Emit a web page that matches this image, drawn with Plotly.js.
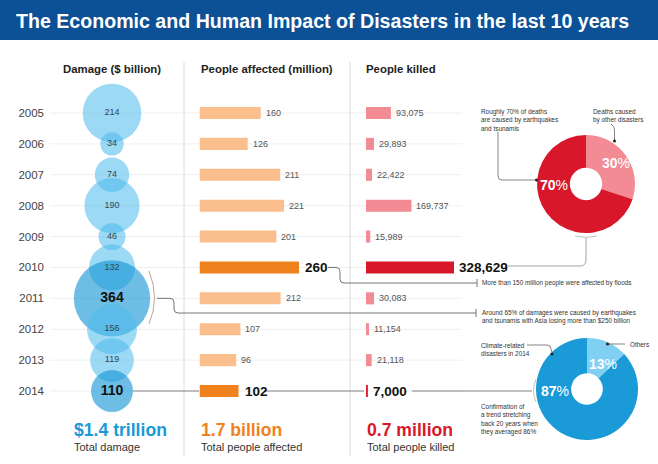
<!DOCTYPE html>
<html><head><meta charset="utf-8">
<script src="https://cdn.plot.ly/plotly-3.0.1.min.js"></script>
<style>html,body{margin:0;padding:0;background:#fff}#c{width:658px;height:464px}</style>
</head><body><div id="c"></div>
<script>
// ---- data ----
const years = [2005,2006,2007,2008,2009,2010,2011,2012,2013,2014];
const damage = [214,34,74,190,46,132,364,156,119,110];          // $ billion
const affected = [160,126,211,221,201,260,212,107,96,102];      // million
const killed = [93075,29893,22422,169737,15989,328629,30083,11154,21118,7000];
const highlightDamage = [2011,2014];
const highlightBars = [2010,2014];
const deathLabels = ['Deaths caused by other disasters','Earthquakes and tsunamis'];
const deathShares = [30,70];
const climateLabels = ['Others','Climate-related disasters'];
const climateShares = [13,87];
const totals = ['$1.4 trillion','1.7 billion','0.7 million'];
const totalLabels = ['Total damage','Total people affected','Total people killed'];
const headers = ['Damage ($ billion)','People affected (million)','People killed'];
const title = 'The Economic and Human Impact of Disasters in the last 10 years';

// ---- layout helpers ----
const W=658,H=464;
const px=x=>x/W, py=y=>1-y/H;
const BOLD="'Liberation Sans',Arial,sans-serif";
const SANS="'Liberation Sans',Arial,sans-serif";
const BLUE='#1a9ad6', ORANGE='#f0821e', RED='#d8182a';
const rowTop=113, rowStep=30.89;
const yr0 = 2005 - rowTop/rowStep, yr1 = 2005 + (H-rowTop)/rowStep;
const rowY = yr => rowTop + (yr-2005)*rowStep;
const P=(x,y)=>`${px(x)},${py(y)}`;

const isHD = years.map(y=>highlightDamage.includes(y));
const isHB = years.map(y=>highlightBars.includes(y));

const traces = [];
// bubbles
traces.push({
  type:'scatter', mode:'markers+text', xaxis:'x', yaxis:'y', cliponaxis:false,
  x: years.map(()=>0), y: years,
  marker:{size:damage, sizemode:'area', sizeref:0.125,
    color:isHD.map(h=>h?'rgba(18,148,212,0.88)':'rgba(78,188,238,0.8)'), line:{width:0}},
  text: damage.map((v,i)=>isHD[i]?`<b>${v}</b>`:String(v)),
  textposition:'middle center',
  textfont:{family:SANS, size:isHD.map(h=>h?14:9), color:isHD.map(h=>h?'#111':'#2f4654')},
  hoverinfo:'skip', showlegend:false
});
// affected bars
traces.push({
  type:'bar', orientation:'h', xaxis:'x2', yaxis:'y', x:affected, y:years, width:0.39,
  marker:{color:isHB.map(h=>h?ORANGE:'#fbbf8d')}, hoverinfo:'skip', showlegend:false
});
// killed bars
traces.push({
  type:'bar', orientation:'h', xaxis:'x3', yaxis:'y', x:killed, y:years, width:0.39,
  marker:{color:isHB.map(h=>h?RED:'#f28b93')}, hoverinfo:'skip', showlegend:false
});
// pies
const pieDom=(cx,cy,r)=>({x:[px(cx-r),px(cx+r)], y:[py(cy+r),py(cy-r)]});
traces.push({type:'pie', labels:deathLabels, values:deathShares, hole:0.33, sort:false,
  direction:'clockwise', rotation:0, textinfo:'none', hoverinfo:'skip',
  marker:{colors:['#f28b93',RED], line:{width:0}}, domain:pieDom(586,184,49), showlegend:false});
traces.push({type:'pie', labels:climateLabels, values:climateShares, hole:0.31, sort:false,
  direction:'clockwise', rotation:0, textinfo:'none', hoverinfo:'skip',
  marker:{colors:['#7fd0f3',BLUE], line:{width:0}}, domain:pieDom(587,389,51), showlegend:false});

const ann=[];
const A=(o)=>ann.push(Object.assign({xref:'paper',yref:'paper',showarrow:false,xanchor:'left',yanchor:'middle'},o));
// title
A({x:px(14),y:py(21),text:`<b>${title}</b>`,font:{family:BOLD,size:19.6,color:'#fff'}});
// headers
[[112,headers[0]],[267,headers[1]],[401,headers[2]]].forEach(([cx,t])=>
  A({x:px(cx),y:py(69),xanchor:'center',text:`<b>${t}</b>`,font:{family:BOLD,size:11.4,color:'#222'}}));
// bar labels
years.forEach((yr,i)=>{
  const hb=isHB[i];
  const f=hb?{family:BOLD,size:13.5,color:'#111'}:{family:SANS,size:9,color:'#555'};
  ann.push({xref:'x2',yref:'y',x:affected[i],y:yr,xshift:hb?4:3,xanchor:'left',yanchor:'middle',showarrow:false,
    text:hb?`<b>${affected[i]}</b>`:String(affected[i]),font:f});
  const ks=killed[i].toLocaleString('en-US');
  ann.push({xref:'x3',yref:'y',x:killed[i],y:yr,xshift:3,xanchor:'left',yanchor:'middle',showarrow:false,
    text:hb?`<b>${ks}</b>`:ks,font:f});
});
// totals
[[73,BLUE],[200,ORANGE],[366,RED]].forEach(([x,c],i)=>{
  A({x:px(x-1),y:py(430),text:`<b>${totals[i]}</b>`,font:{family:BOLD,size:17.6,color:c}});
  A({x:px(x-1),y:py(447),text:totalLabels[i],font:{family:SANS,size:11,color:'#333'}});
});
// pie percentages
const pct=(v)=>`<b>${v}</b><span style="font-weight:normal">%</span>`;
A({x:px(554),y:py(185),xanchor:'center',text:pct(deathShares[1]),font:{family:BOLD,size:14,color:'#fff'}});
A({x:px(616),y:py(163),xanchor:'center',text:pct(deathShares[0]),font:{family:BOLD,size:14,color:'#fff'}});
A({x:px(555),y:py(391),xanchor:'center',text:pct(climateShares[1]),font:{family:BOLD,size:14,color:'#fff'}});
A({x:px(603),y:py(364),xanchor:'center',text:pct(climateShares[0]),font:{family:BOLD,size:14,color:'#fff'}});
// notes
const note={family:SANS,size:6.4,color:'#333'};
A({x:px(479),y:py(106),yanchor:'top',align:'left',text:'Roughly 70% of deaths<br>are caused by earthquakes<br>and tsunamis',font:note});
A({x:px(591),y:py(106),yanchor:'top',align:'left',text:'Deaths caused<br>by other disasters',font:note});
A({x:px(480),y:py(283),text:'More than 150 million people were affected by floods',font:note});
A({x:px(480),y:py(317),align:'left',text:'Around 65% of damages were caused by earthquakes<br>and tsunamis with Asia losing more than $250 billion',font:note});
A({x:px(479),y:py(349),align:'left',text:'Climate-related<br>disasters in 2014',font:note});
A({x:px(628),y:py(344),text:'Others',font:note});
A({x:px(479),y:py(401),yanchor:'top',align:'left',text:'Confirmation of<br>a trend stretching<br>back 20 years when<br>they averaged 86%',font:note});

// shapes
const shapes=[];
shapes.push({type:'rect',xref:'paper',yref:'paper',x0:0,x1:1,y0:py(40),y1:1,fillcolor:'#0c5096',line:{width:0},layer:'below'});
years.forEach(yr=>shapes.push({type:'line',xref:'paper',yref:'y',x0:px(50),x1:px(462),y0:yr,y1:yr,line:{color:'#efefef',width:1},layer:'below'}));
[184,350].forEach(x=>shapes.push({type:'line',xref:'paper',yref:'paper',x0:px(x),x1:px(x),y0:py(62),y1:py(456),line:{color:'#dcdcdc',width:1},layer:'below'}));
const path=(d,c='#666',w=0.9)=>shapes.push({type:'path',xref:'paper',yref:'paper',path:d,line:{color:c,width:w}});
const dot=(x,y)=>shapes.push({type:'circle',xref:'paper',yref:'paper',x0:px(x-1.5),x1:px(x+1.5),y0:py(y+1.5),y1:py(y-1.5),fillcolor:'#222',line:{width:0}});
const y10=rowY(2010), y11=rowY(2011), y14=rowY(2014);
// 2010 affected -> floods note
path(`M${P(328,y10)} L${P(336,y10)} Q${P(340,y10)} ${P(340,y10+4)} L${P(340,283-4)} Q${P(340,283)} ${P(344,283)} L${P(477,283)}`);
path(`M${P(477,279)} L${P(477,287)}`);
// 2011 damage bracket + note
path(`M${P(149,271)} Q${P(160,y11)} ${P(149,324)}`,'#b59a88',0.9);
path(`M${P(157,y11)} L${P(170,y11)} Q${P(174,y11)} ${P(174,y11+4)} L${P(174,309)} Q${P(174,313)} ${P(178,313)} L${P(476,313)}`);
path(`M${P(476,309)} L${P(476,317)}`);
// 2010 killed -> red donut
path(`M${P(508,266)} L${P(580,266)} Q${P(586,266)} ${P(586,260)} L${P(586,237)}`,'#999',0.9);
path(`M${P(575,236)} Q${P(586,239)} ${P(597,236)}`,'#bbb',0.9);
// 70% leader
path(`M${P(498,132)} L${P(498,176)} Q${P(498,180)} ${P(502,180)} L${P(536,180)}`,'#666',0.8);
dot(536.5,180);
// 30% leader
path(`M${P(611,124)} Q${P(614.5,126)} ${P(614.5,130)} L${P(614.5,140)}`,'#666',0.8);
dot(614.5,141);
// 2014 line
path(`M${P(133,y14)} L${P(199,y14)}`,'#777',0.9);
path(`M${P(264,y14)} L${P(364,y14)}`,'#777',0.9);
path(`M${P(412,y14)} L${P(532,y14)}`,'#777',0.9);
path(`M${P(536,379)} Q${P(531,y14)} ${P(536,402)}`,'#bbb',0.9);
// climate leaders
path(`M${P(527,345)} L${P(547,345)} Q${P(551,345)} ${P(551,349)} L${P(552,352)}`,'#666',0.8);
dot(552,354);
path(`M${P(608,344)} L${P(625,344)}`,'#666',0.8);
dot(607.5,344);

const hid={visible:false,fixedrange:true,zeroline:false,showgrid:false};
const layout={
  width:W,height:H,margin:{l:0,r:0,t:0,b:0},paper_bgcolor:'#fff',plot_bgcolor:'rgba(0,0,0,0)',
  showlegend:false,barmode:'overlay',
  xaxis:Object.assign({domain:[px(62),px(162)],range:[-1,1],anchor:'y'},hid),
  xaxis2:Object.assign({domain:[px(199.5),px(299)],range:[0,260],anchor:'y'},hid),
  xaxis3:Object.assign({domain:[px(366),px(454)],range:[0,328629],anchor:'y'},hid),
  yaxis:{domain:[0,1],range:[yr1,yr0],anchor:'free',position:px(44),showgrid:false,zeroline:false,showline:false,
    ticks:'',tickvals:years,ticktext:years.map(String),tickfont:{family:SANS,size:11.5,color:'#444'},fixedrange:true},
  annotations:ann,shapes:shapes
};
Plotly.newPlot('c',traces,layout,{staticPlot:true,displayModeBar:false});
</script></body></html>
